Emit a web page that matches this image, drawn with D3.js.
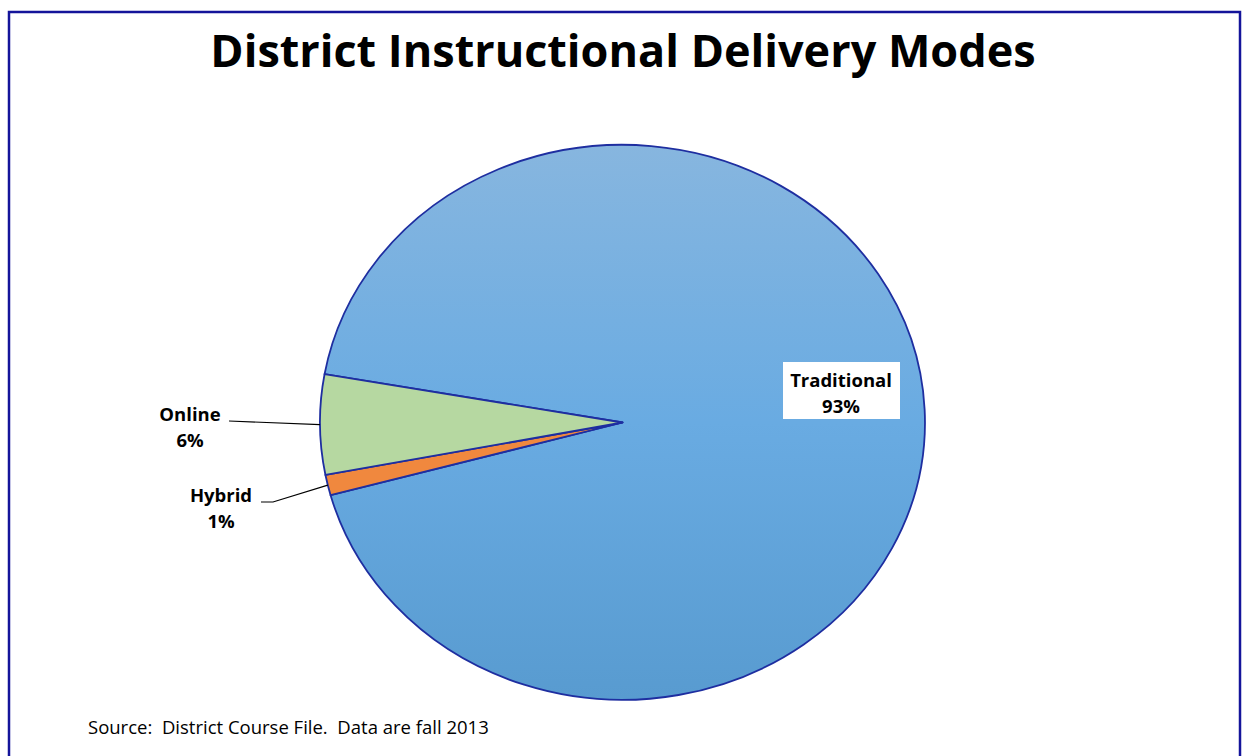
<!DOCTYPE html>
<html><head><meta charset="utf-8">
<script src="https://cdn.jsdelivr.net/npm/d3@7"></script>
<style>html,body{margin:0;padding:0;background:#fff;overflow:hidden} text{white-space:pre}</style>
</head><body>
<svg id="c" width="1243" height="756"></svg>
<script>
const categories = ["Traditional", "Hybrid", "Online"];
const values = [93.0, 1.2, 5.8];
const labels = ["93%", "1%", "6%"];
const title = "District Instructional Delivery Modes";
const source = "Source:  District Course File.  Data are fall 2013";

const svg = d3.select("#c");
const fillColors = {Traditional: "url(#gradT)", Hybrid: "#F0883E", Online: "#B6D8A1"};

const defs = svg.append("defs");
const g = defs.append("linearGradient").attr("id", "gradT")
  .attr("gradientUnits", "userSpaceOnUse")
  .attr("x1", 0).attr("y1", -1).attr("x2", 0).attr("y2", 1);
g.append("stop").attr("offset", "0%").attr("stop-color", "#87B6DF");
g.append("stop").attr("offset", "50%").attr("stop-color", "#69ABE2");
g.append("stop").attr("offset", "100%").attr("stop-color", "#589BD0");

// frame
svg.append("rect").attr("x", 9).attr("y", 12).attr("width", 1231).attr("height", 760)
  .attr("fill", "none").attr("stroke", "#14149A").attr("stroke-width", 2.5);

const font = "'Open Sans', Lato, sans-serif";

svg.append("text").attr("x", 623).attr("y", 67).attr("text-anchor", "middle")
  .attr("font-family", font).attr("font-weight", "bold")
  .attr("font-size", 45).attr("fill", "#000").text(title);

const cx = 622.5, cy = 422.5, rx = 302.5, ry = 277.5;
const start = -80 * Math.PI / 180;
const pie = d3.pie().sort(null).value(d => d.v).startAngle(start).endAngle(start + 2 * Math.PI);
const data = pie(categories.map((c, i) => ({c, v: values[i], l: labels[i]})));
const arc = d3.arc().innerRadius(0).outerRadius(1);

const pg = svg.append("g").attr("transform", `translate(${cx},${cy}) scale(${rx},${ry})`);
pg.selectAll("path").data(data).join("path")
  .attr("d", arc)
  .attr("fill", d => fillColors[d.data.c])
  .attr("stroke", "#1E2EA0").attr("stroke-width", 1.8)
  .attr("stroke-linejoin", "round")
  .attr("vector-effect", "non-scaling-stroke");

function pt(a, r) { return [cx + Math.sin(a) * rx * r, cy - Math.cos(a) * ry * r]; }

function label2(x, y1, y2, t1, t2) {
  const t = svg.append("text").attr("text-anchor", "middle").attr("font-family", font)
    .attr("font-weight", "bold").attr("font-size", 18.5).attr("fill", "#000");
  t.append("tspan").attr("x", x).attr("y", y1).text(t1);
  t.append("tspan").attr("x", x).attr("y", y2).text(t2);
}

data.forEach(d => {
  const mid = (d.startAngle + d.endAngle) / 2;
  if (d.data.c === "Traditional") {
    svg.append("rect").attr("x", 783).attr("y", 362).attr("width", 117).attr("height", 57).attr("fill", "#fff");
    label2(841, 387, 413, d.data.c, d.data.l);
  } else if (d.data.c === "Online") {
    const p = pt(mid, 1);
    svg.append("path").attr("d", d3.line()([[229, 421], p]))
      .attr("fill", "none").attr("stroke", "#000").attr("stroke-width", 1.2);
    label2(190, 421, 447, d.data.c, d.data.l);
  } else {
    const p = pt(mid, 1);
    svg.append("path").attr("d", d3.line()([[261, 502], [273, 502], p]))
      .attr("fill", "none").attr("stroke", "#000").attr("stroke-width", 1.2);
    label2(221, 502, 528, d.data.c, d.data.l);
  }
});

svg.append("text").attr("x", 88).attr("y", 734).attr("font-family", font)
  .attr("font-size", 18.5).attr("fill", "#000").text(source);
</script>
</body></html>
